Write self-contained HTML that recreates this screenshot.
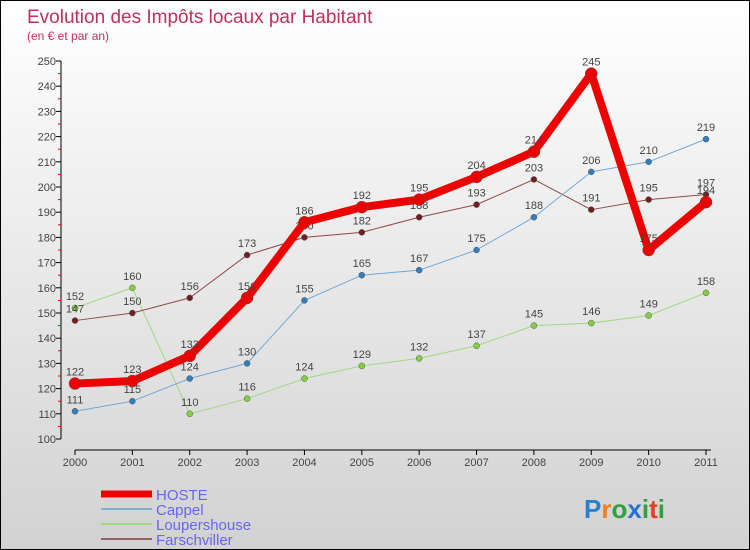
<!DOCTYPE html>
<html><head><meta charset="utf-8"><style>
body{margin:0}
#c{width:750px;height:550px;box-sizing:border-box;border:1px solid #000;background:linear-gradient(#ffffff,#d2d2d2);position:relative;overflow:hidden;font-family:"Liberation Sans",sans-serif}
</style></head><body>
<div id="c">
<svg id="s" width="748" height="548" style="position:absolute;left:0;top:0" font-family="Liberation Sans, sans-serif">
<text x="26" y="22" font-size="19" fill="#c0305a">Evolution des Impôts locaux par Habitant</text>
<text x="26" y="39" font-size="12" fill="#c0305a">(en € et par an)</text>
<g id="axes"></g><g id="series"></g><g id="legend"></g>
<text x="583" y="517" font-size="26" font-weight="bold"><tspan fill="#2a80d0">P</tspan><tspan fill="#f08020">r</tspan><tspan fill="#30a040">o</tspan><tspan fill="#2a70d0">x</tspan><tspan fill="#30a040">i</tspan><tspan fill="#e04020">t</tspan><tspan fill="#30a040">i</tspan></text>
</svg>
</div>
<script>
const years=["2000","2001","2002","2003","2004","2005","2006","2007","2008","2009","2010","2011"];
const hoste=[122,123,133,156,186,192,195,204,214,245,175,194];
const cappel=[111,115,124,130,155,165,167,175,188,206,210,219];
const louper=[152,160,110,116,124,129,132,137,145,146,149,158];
const farsch=[147,150,156,173,180,182,188,193,203,191,195,197];
const yTicks=[100,110,120,130,140,150,160,170,180,190,200,210,220,230,240,250];
const NS="http://www.w3.org/2000/svg";
function X(i){return 74+i*(631/11);}
function Y(v){return 438-(v-100)*(378/150);}
function mk(t,a,p){const e=document.createElementNS(NS,t);for(const k in a)e.setAttribute(k,a[k]);p.appendChild(e);return e;}
const ax=document.getElementById('axes');
let l=mk('line',{x1:60,y1:Y(250),x2:60,y2:Y(100),stroke:'#000'},ax);


l=mk('line',{x1:74,y1:449,x2:710,y2:449,stroke:'#000'},ax);


yTicks.forEach((v,i)=>{
 mk('line',{x1:55,x2:60,y1:Y(v),y2:Y(v),stroke:'#000'},ax);
 if(i<yTicks.length-1)mk('line',{x1:57,x2:60,y1:Y(v+5),y2:Y(v+5),stroke:'#e00'},ax);
 const t=mk('text',{x:55,y:Y(v)+4,'text-anchor':'end','font-size':11,fill:'#444'},ax);
 t.textContent=v;
 
 
});
years.forEach((y,i)=>{
 mk('line',{x1:X(i),x2:X(i),y1:449,y2:454,stroke:'#000'},ax);
 const t=mk('text',{x:X(i),y:465,'text-anchor':'middle','font-size':11,fill:'#444'},ax);
 t.textContent=y;
 
 
});
const sg=document.getElementById('series');
function series(data,color,dot,w,r,name){
 const g=mk('g',{},sg);
 
 
 mk('polyline',{points:data.map((v,i)=>X(i)+','+Y(v)).join(' '),fill:'none',stroke:color,'stroke-width':w,'stroke-linejoin':'round'},g);
 data.forEach((v,i)=>{
  const c=mk('circle',{cx:X(i),cy:Y(v),r:r,fill:dot,stroke:'#555','stroke-width':0.5},g);
  
  
  const t=mk('text',{x:X(i),y:Y(v)-8,'text-anchor':'middle','font-size':11,fill:'#444'},g);
  t.textContent=v;
 });
}
series(louper,'#a0d880','#80d040',1,3,'loupershouse');
series(farsch,'#904848','#702020',1,3,'farschviller');
series(cappel,'#70a8d8','#3080c0',1,3,'cappel');
series(hoste,'#ee0000','#ee0000',8,6,'hoste');
const lg=document.getElementById('legend');
const items=[['HOSTE','#ee0000',7],['Cappel','#80b0d0',2],['Loupershouse','#a0d880',2],['Farschviller','#946060',2]];
items.forEach((it,i)=>{
 const y=493+i*15;
 const g=mk('g',{},lg);
 
 
 mk('line',{x1:100,x2:151,y1:y,y2:y,stroke:it[1],'stroke-width':it[2]},g);
 const t=mk('text',{x:155,y:y+6,'font-size':15,fill:'#6666ee'},g);
 t.textContent=it[0];
});
</script>
</body></html>
